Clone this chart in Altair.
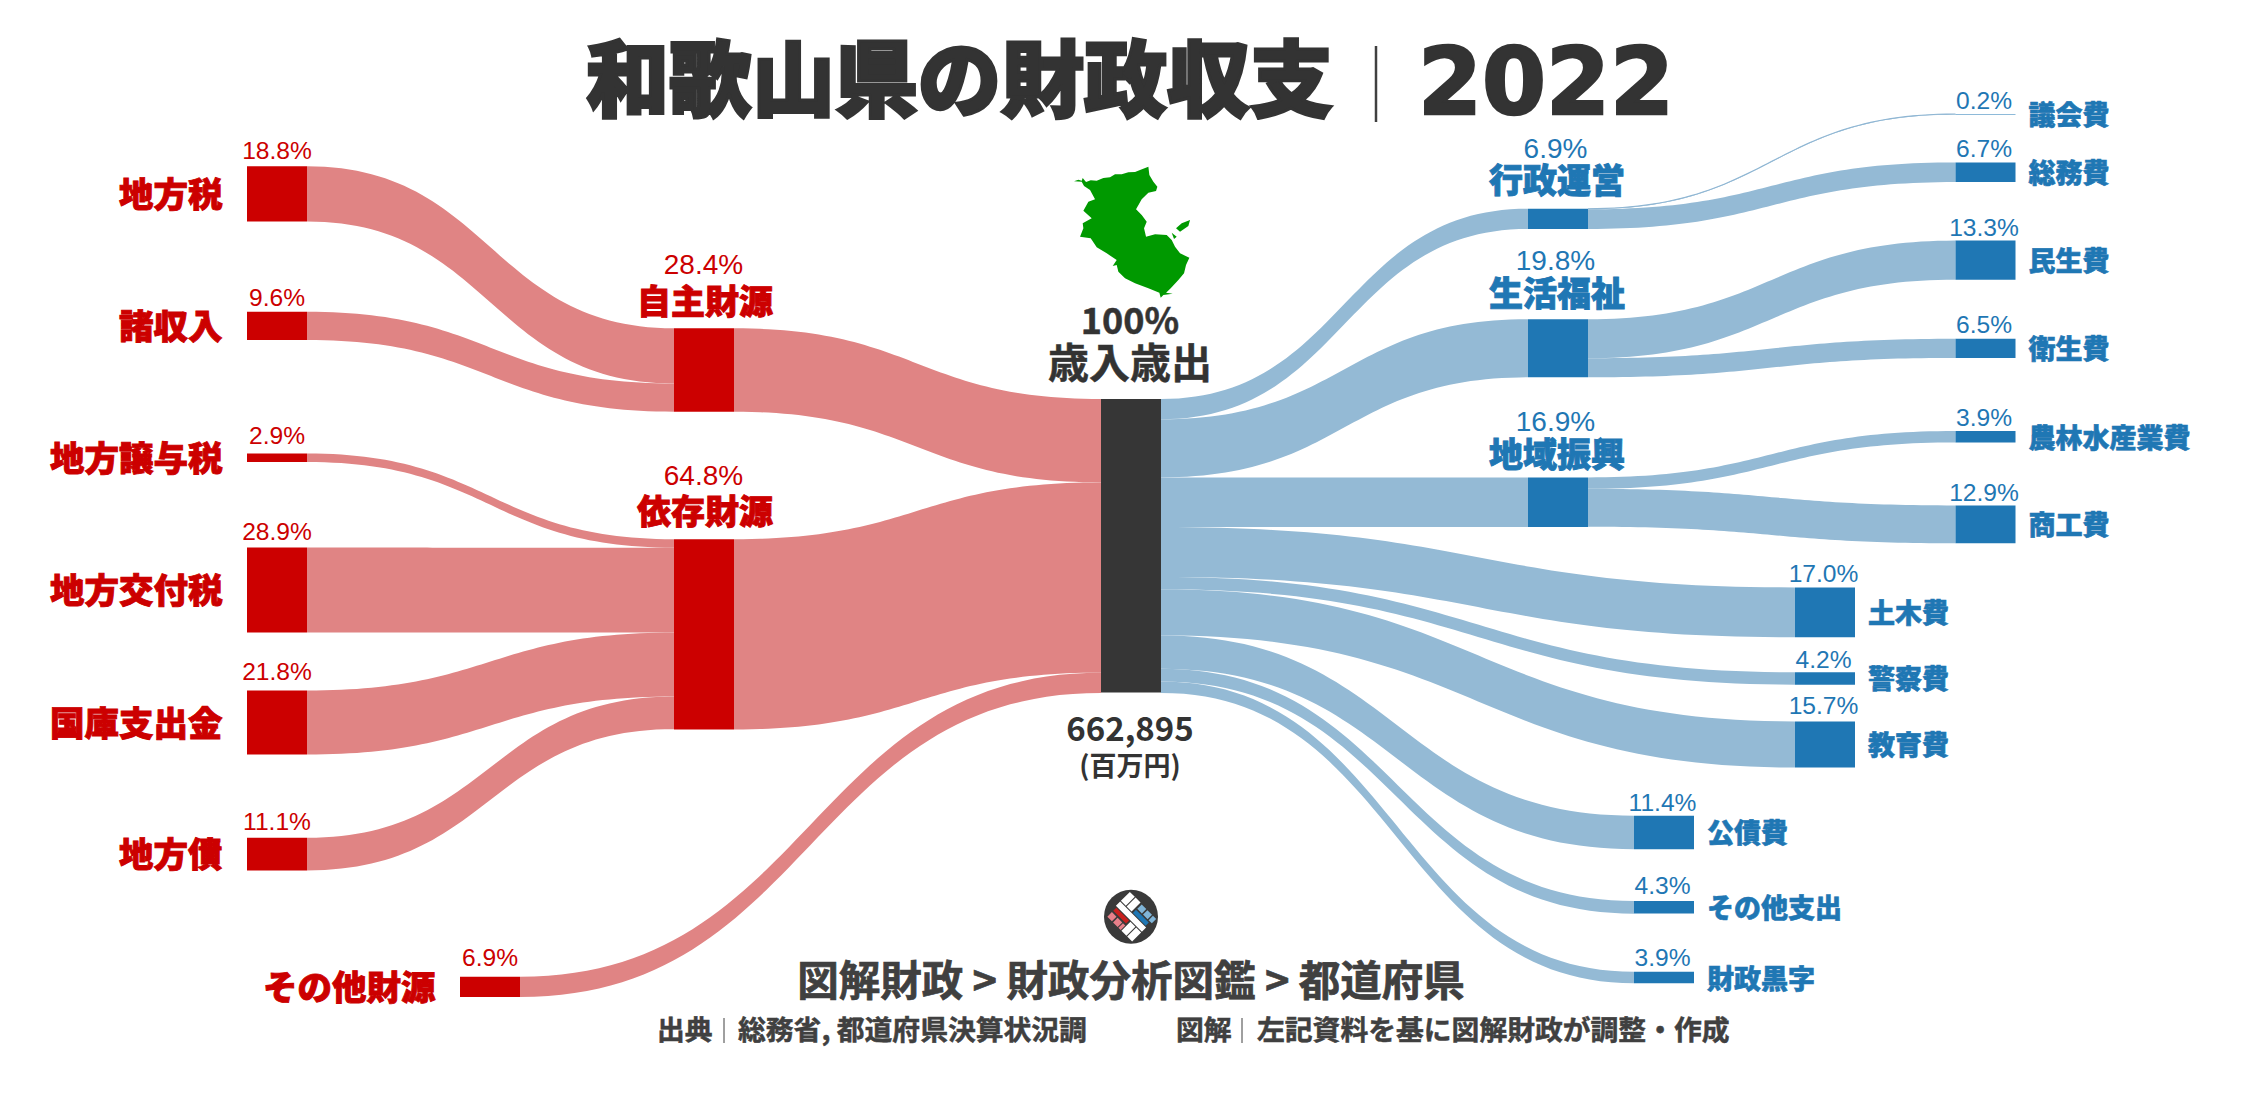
import altair as alt
import pandas as pd
import math

# ---------- values (share of the budget, %) ----------
revenue_items = ["地方税", "諸収入", "地方譲与税", "地方交付税", "国庫支出金", "地方債", "その他財源"]
revenue_share = [18.8, 9.6, 2.9, 28.9, 21.8, 11.1, 6.9]
revenue_groups = ["自主財源", "依存財源"]
revenue_group_share = [28.4, 64.8]
expense_groups = ["行政運営", "生活福祉", "地域振興"]
expense_group_share = [6.9, 19.8, 16.9]
expense_items = ["議会費", "総務費", "民生費", "衛生費", "農林水産業費", "商工費",
                 "土木費", "警察費", "教育費", "公債費", "その他支出", "財政黒字"]
expense_share = [0.2, 6.7, 13.3, 6.5, 3.9, 12.9, 17.0, 4.2, 15.7, 11.4, 4.3, 3.9]
total_amount = "662,895"

# ---------- layout (node column / top edge in picture pixels) ----------
PX_PER_PCT = 2.936
NODE_W = 60
W, H = 2231, 1078
layout = {
    "地方税": (247, 166.3), "諸収入": (247, 311.8), "地方譲与税": (247, 453.5),
    "地方交付税": (247, 547.6), "国庫支出金": (247, 690.5), "地方債": (247, 837.8),
    "その他財源": (460, 976.7),
    "自主財源": (674, 328.3), "依存財源": (674, 539.2),
    "歳入歳出": (1101, 399.0),
    "行政運営": (1528, 208.7), "生活福祉": (1528, 319.2), "地域振興": (1528, 477.4),
    "議会費": (1955.5, 114.0), "総務費": (1955.5, 162.4), "民生費": (1955.5, 240.6),
    "衛生費": (1955.5, 338.8), "農林水産業費": (1955.5, 431.0), "商工費": (1955.5, 505.4),
    "土木費": (1795, 587.4), "警察費": (1795, 672.3), "教育費": (1795, 721.4),
    "公債費": (1634, 815.7), "その他支出": (1634, 901.0), "財政黒字": (1634, 971.8),
}
# baselines of the percent labels
pct_base_left = [158.5, 305.9, 443.7, 540.0, 680.0, 830.0, 966.0]
pct_base_right = [108.7, 156.8, 235.7, 333.2, 425.5, 500.9, 582.0, 667.7, 714.4, 810.8, 894.0, 965.9]

shares = dict(zip(revenue_items + revenue_groups + expense_groups + expense_items,
                  revenue_share + revenue_group_share + expense_group_share + expense_share))
shares["歳入歳出"] = 100.0

links = [
    ("地方税", "自主財源"), ("諸収入", "自主財源"),
    ("地方譲与税", "依存財源"), ("地方交付税", "依存財源"), ("国庫支出金", "依存財源"), ("地方債", "依存財源"),
    ("自主財源", "歳入歳出"), ("依存財源", "歳入歳出"), ("その他財源", "歳入歳出"),
    ("歳入歳出", "行政運営"), ("歳入歳出", "生活福祉"), ("歳入歳出", "地域振興"),
    ("歳入歳出", "土木費"), ("歳入歳出", "警察費"), ("歳入歳出", "教育費"),
    ("歳入歳出", "公債費"), ("歳入歳出", "その他支出"), ("歳入歳出", "財政黒字"),
    ("行政運営", "議会費"), ("行政運営", "総務費"), ("生活福祉", "民生費"), ("生活福祉", "衛生費"),
    ("地域振興", "農林水産業費"), ("地域振興", "商工費"),
]
revenue_side = set(revenue_items + revenue_groups)

# ---------- ribbons through the scales (cubic bezier with horizontal tangents) ----------
out_off, in_off = {}, {}
rows = []
for i, (s, t) in enumerate(links):
    v = min(shares[s], shares[t]) * PX_PER_PCT
    x0 = layout[s][0] + NODE_W
    x1 = layout[t][0]
    y0 = layout[s][1] + out_off.get(s, 0)
    y1 = layout[t][1] + in_off.get(t, 0)
    out_off[s] = out_off.get(s, 0) + v
    in_off[t] = in_off.get(t, 0) + v
    xm = (x0 + x1) / 2
    for k in range(61):
        u = k / 60
        a, b, c, d = (1-u)**3, 3*(1-u)**2*u, 3*(1-u)*u**2, u**3
        x = a*x0 + (b+c)*xm + d*x1
        y = (a+b)*y0 + (c+d)*y1
        rows.append(dict(link=i, x=x, y=y, y2=y+v, k=k, target=t, side="rev" if s in revenue_side else "exp"))
ribbons = pd.DataFrame(rows)

nodes = []
for name, (x, top) in layout.items():
    c = "#CC0000" if name in revenue_side else "#1F77B4"
    if name == "歳入歳出":
        c = "#363636"
    nodes.append(dict(name=name, x=x, x2=x+NODE_W, y=top, y2=top+shares[name]*PX_PER_PCT, c=c,
                      pct=f"{shares[name]:.1f}%", cx=x+NODE_W/2, mid=top+shares[name]*PX_PER_PCT/2))
nodes = pd.DataFrame(nodes)

xs = alt.Scale(domain=[8, 8+W], nice=False, zero=False)
ys = alt.Scale(domain=[8, 8+H], nice=False, zero=False, reverse=True)
X = lambda f="x": alt.X(f"{f}:Q", scale=xs, axis=None)
Y = lambda f="y": alt.Y(f"{f}:Q", scale=ys, axis=None)

RIB_R = alt.Chart(ribbons[ribbons.side == "rev"]).mark_area(color="#E08484", orient="vertical").encode(
    x=X(), y=Y(), y2="y2:Q", detail="link:N")
RIB_B = alt.Chart(ribbons[ribbons.side == "exp"]).mark_area(color="#94BAD5", orient="vertical").encode(
    x=X(), y=Y(), y2="y2:Q", detail="link:N")
THIN = alt.Chart(ribbons[ribbons.target == "議会費"]).mark_line(color="#8FB6D3", strokeWidth=1.1).encode(
    x=X(), y=Y())
NOD = alt.Chart(nodes).mark_rect(strokeWidth=0).encode(
    x=X(), x2="x2:Q", y=Y(), y2="y2:Q", color=alt.Color("c:N", scale=None, legend=None))

CJK = "Noto Sans CJK JP"
LATIN = "Liberation Sans"
RED, BLUE, DARK = "#CC0000", "#1F77B4", "#333333"


def texts(rows, size, color, font=CJK, weight=900, align="center", baseline="middle", stroke=0):
    df = pd.DataFrame(rows, columns=["t", "x", "y"])
    kw = dict(stroke=color, strokeWidth=stroke) if stroke else {}
    return alt.Chart(df).mark_text(font=font, fontSize=size, fontWeight=weight, color=color,
                                   align=align, baseline=baseline, **kw).encode(x=X(), y=Y(), text="t:N")


def node_row(n):
    return nodes[nodes.name == n].iloc[0]


layers = [RIB_R, RIB_B, THIN, NOD]

# left column names (right aligned against the nodes)
left = [(n, node_row(n).x - 24.5, node_row(n).mid + 3) for n in revenue_items]
layers.append(texts(left, 34.5, RED, align="right", stroke=0.9))
# percent labels
lp = [(node_row(n).pct, node_row(n).cx, b) for n, b in zip(revenue_items, pct_base_left)]
layers.append(texts(lp, 24.6, RED, font=LATIN, weight=400, baseline="alphabetic"))
rp = [(node_row(n).pct, node_row(n).cx - 1.5, b) for n, b in zip(expense_items, pct_base_right)]
layers.append(texts(rp, 24.6, BLUE, font=LATIN, weight=400, baseline="alphabetic"))
# right names
rn = [(n, node_row(n).x2 + 13, node_row(n).mid + 3) for n in expense_items]
layers.append(texts(rn, 27, BLUE, align="left", stroke=0.6))
# group names and percents
layers.append(texts([("自主財源", 705, 304), ("依存財源", 705, 514)], 34, RED, stroke=0.9))
layers.append(texts([("行政運営", 1557, 183), ("生活福祉", 1557, 296), ("地域振興", 1557, 457)], 34, BLUE, stroke=0.9))
layers.append(texts([("28.4%", 703.5, 273.6), ("64.8%", 703.5, 484.7)], 28, RED, font=LATIN, weight=400, baseline="alphabetic"))
layers.append(texts([("6.9%", 1555.5, 157.8), ("19.8%", 1555.5, 270), ("16.9%", 1555.5, 431.4)], 28, BLUE, font=LATIN, weight=400, baseline="alphabetic"))
# centre
layers.append(texts([("100%", 1130, 323)], 36, DARK, weight=700, stroke=0.5))
layers.append(texts([("歳入歳出", 1130, 366)], 41, DARK, weight=700, stroke=0.5))
layers.append(texts([(total_amount, 1130, 731)], 33, DARK, weight=700))
layers.append(texts([("(百万円)", 1130, 768)], 27, DARK, weight=700))
# title
layers.append(texts([("和歌山県の財政収支", 586, 85)], 83, DARK, align="left", stroke=3))
layers.append(texts([("2022", 1418, 86)], 92, DARK, font="DejaVu Sans", weight=700, align="left", stroke=2.5))
# footer
layers.append(texts([("図解財政 > 財政分析図鑑 > 都道府県", 1131, 984)], 41.5, "#404040", weight=700, stroke=0.7))
layers.append(texts([("出典", 657, 1032), ("総務省, 都道府県決算状況調", 738, 1032),
                     ("図解", 1176, 1032), ("左記資料を基に図解財政が調整・作成", 1257, 1032)],
                    27.8, "#404040", weight=700, align="left", stroke=0.5))
# thin separators
seps = pd.DataFrame([dict(x=1376, y=46, y2=122, w=2.5), dict(x=724, y=1018, y2=1043, w=1), dict(x=1242, y=1018, y2=1043, w=1)])
layers.append(alt.Chart(seps).mark_rule(color="#404040").encode(
    x=X(), y=Y(), y2="y2:Q", strokeWidth=alt.StrokeWidth("w:Q", legend=None, scale=None)))

# prefecture outline, zoomed from the reference (pixels relative to its own centre)
outline = [(222,124),(235,119),(245,122),(248,114),(258,126),(272,121),(290,122),(310,114),(330,112),(345,103),(365,103),(385,97),(405,96),
           (420,90),(445,80),(448,105),(460,125),(472,140),(468,153),(445,158),(425,178),(408,208),(425,225),(440,245),
           (432,265),(438,290),(465,283),(500,285),(515,300),(525,320),(540,340),(568,353),(558,375),(552,400),(535,420),
           (512,445),(498,458),(518,461),(490,465),(482,473),(478,458),(445,445),(405,430),(375,415),(355,395),(350,375),
           (338,378),(350,360),(320,340),(290,322),(272,295),(240,290),(250,265),(248,250),(275,235),(250,212),(265,185),
           (285,178),(270,150),(252,138),(245,125)]
islands = [[(528,265),(545,250),(570,240),(565,258),(540,275)], [(515,278),(530,290),(522,297)]]
def poly_path(pts, cx, cy, r):
    return "M" + " L".join(f"{(x-cx)/r:.3f},{(y-cy)/r:.3f}" for x, y in pts) + " Z"
map_path = " ".join(poly_path(p, 395, 276, 200) for p in [outline] + islands)
layers.append(alt.Chart(pd.DataFrame([dict(x=1131.7, y=232)])).mark_point(
    shape=map_path, filled=True, fill="#009900", opacity=1, size=(2*200/3)**2, strokeWidth=0).encode(x=X(), y=Y()))

# logo
def logo_rect(u0, u1, v0, v1):
    pts = [(u0, v0), (u1, v0), (u1, v1), (u0, v1)]
    s = math.sqrt(0.5)
    return "M" + " L".join(f"{(u+v)*s:.3f},{(u-v)*s:.3f}" for u, v in pts) + " Z"
logo_parts = [
    ("#FFFFFF", [(-0.68,0.68,-0.11,0.11),(-0.68,-0.42,0.15,0.62),(-0.38,-0.12,0.15,0.62),(0.12,0.38,-0.62,-0.15),(0.42,0.68,-0.62,-0.15)]),
    ("#C8201E", [(-0.62,0.05,-0.31,-0.15)]),
    ("#E8808A", [(-0.62,-0.38,-0.62,-0.38),(-0.32,-0.08,-0.62,-0.38),(-0.04,0.08,-0.62,-0.38)]),
    ("#1F77B4", [(-0.05,0.62,0.15,0.31)]),
    ("#80B5D8", [(-0.04,0.2,0.37,0.6),(0.26,0.5,0.37,0.6),(0.55,0.72,0.37,0.6)]),
]
logo_xy = pd.DataFrame([dict(x=1131, y=916.7)])
layers.append(alt.Chart(logo_xy).mark_point(shape="circle", filled=True, fill="#3A3A3A", opacity=1, size=54**2, strokeWidth=0).encode(x=X(), y=Y()))
for colour, rects in logo_parts:
    layers.append(alt.Chart(logo_xy).mark_point(
        shape=" ".join(logo_rect(*r) for r in rects), filled=True, fill=colour, opacity=1, size=54**2, strokeWidth=0
    ).encode(x=X(), y=Y()))

chart = alt.layer(*layers).properties(
    width=W, height=H, padding=0, background="white",
    autosize=alt.AutoSizeParams(type="none")
).configure_view(stroke=None)

chart.save("out.html", embed_options={"renderer": "svg", "actions": False})
